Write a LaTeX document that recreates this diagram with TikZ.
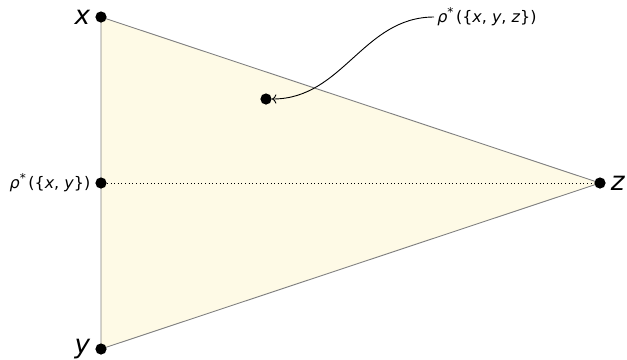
\documentclass[tikz,border=0pt]{standalone}
\usepackage{fontspec}
\setmainfont{DejaVu Sans}
\usetikzlibrary{arrows.meta, positioning}

\definecolor{facefill}{HTML}{FEFAE6}
\newcommand{\rhostar}{\textit{ρ}\raisebox{0.7ex}{\footnotesize *}\,}

\begin{document}
\begin{tikzpicture}[
    x={(0.66pt,0)}, y={(0,-0.66pt)},
    pt/.style={circle, fill=black, inner sep=0pt, minimum size=7.4pt},
    vlabel/.style={font=\LARGE\itshape, inner sep=2pt},
    setlabel/.style={font=\fontsize{10.5}{12}\selectfont, inner sep=2pt},
    face/.style={fill=facefill, draw=gray, line width=0.6pt}
]
    \useasboundingbox (0,0) rectangle (627,359);

    % Simplex
    \coordinate (cx) at (101,17);
    \coordinate (cy) at (101,349);
    \coordinate (cz) at (600,183);
    \filldraw[face] (cx) -- (cz) -- (cy) -- cycle;

    % Points
    \node[pt] (x) at (cx) {};
    \node[pt] (y) at (cy) {};
    \node[pt] (z) at (cz) {};
    \node[pt] (xy) at (101,183) {};
    \node[pt] (xyz) at (266,99) {};

    % Labels
    \node[vlabel, left=1pt of x] {x};
    \node[vlabel, left=1pt of y] {y};
    \node[vlabel, right=1pt of z] {z};
    \node[setlabel, left=1pt of xy] {\rhostar(\{\textit{x}, \textit{y}\})};
    \node[setlabel, anchor=west] (lxyz) at (434,17) {\rhostar(\{\textit{x}, \textit{y}, \textit{z}\})};

    % Connectors
    \draw[dotted] (xy) -- (z);
    \draw[->, line width=0.6pt] (lxyz.west) to[out=180, in=0] (xyz);

\end{tikzpicture}
\end{document}
